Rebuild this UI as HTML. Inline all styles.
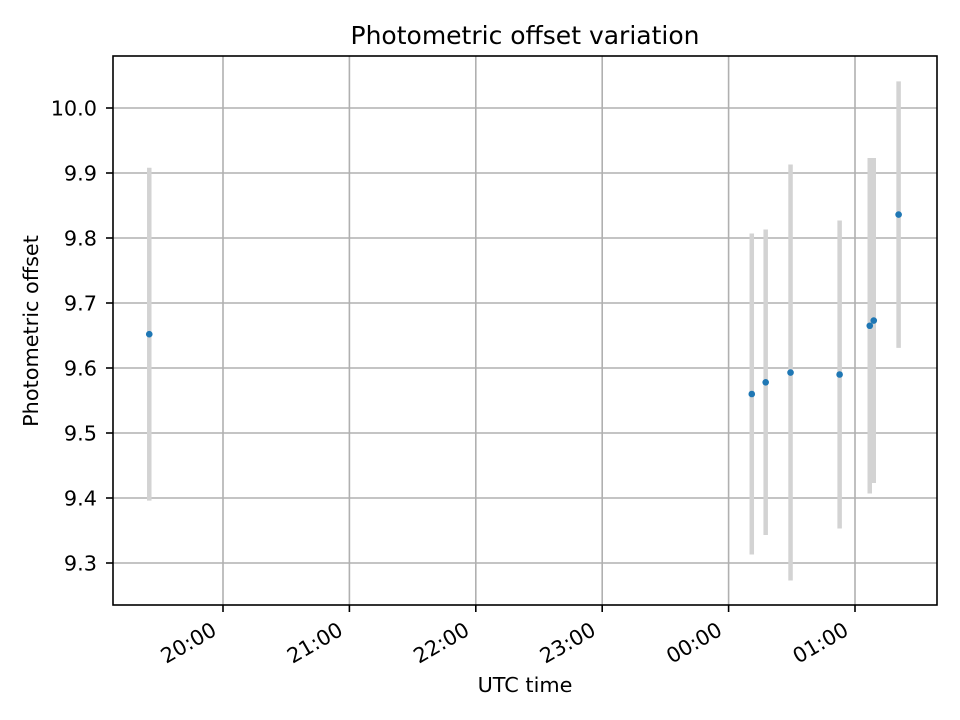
<!DOCTYPE html>
<html><head><meta charset="utf-8"><style>
body{margin:0;background:#fff}
svg{display:block;font-family:"DejaVu Sans","Liberation Sans",sans-serif}
</style></head><body>
<svg id="chart" width="960" height="720" viewBox="0 0 960 720" xmlns="http://www.w3.org/2000/svg">
<rect width="960" height="720" fill="#fff"/>
<text x="525" y="44" font-size="25" text-anchor="middle">Photometric offset variation</text>
<text x="525" y="692" font-size="20.8" text-anchor="middle">UTC time</text>
<text transform="translate(38,331) rotate(-90)" font-size="20.8" text-anchor="middle">Photometric offset</text>
<g id="grid"></g><g id="errs"></g><g id="pts"></g><g id="ticks"></g>
<rect x="113" y="56" width="824" height="549" fill="none" stroke="#000" stroke-width="1.6"/>
</svg>
<script>
// times in minutes since 00:00 of the first day
const times=[1165,1451,1457.6,1469.4,1492.7,1507,1508.9,1520.7];
const offsets=[9.652,9.56,9.578,9.593,9.59,9.665,9.673,9.836];
const errors=[0.256,0.247,0.235,0.32,0.237,0.258,0.25,0.205];
const yTicks=[9.3,9.4,9.5,9.6,9.7,9.8,9.9,10.0];
const xTickMins=[1200,1260,1320,1380,1440,1500];
const xTickLabels=["20:00","21:00","22:00","23:00","00:00","01:00"];
const ns="http://www.w3.org/2000/svg";
const X0=113,X1=937,Y0=56,Y1=605;
const xs=m=>223+(m-1200)*126.4/60;
const ys=v=>108+(10.0-v)*650;
function mk(tag,attrs,parent){const e=document.createElementNS(ns,tag);for(const k in attrs)e.setAttribute(k,attrs[k]);document.getElementById(parent).appendChild(e);return e;}
yTicks.forEach((t,i)=>{const y=ys(t);
 const g=mk('line',{x1:X0,x2:X1,y1:y,y2:y,stroke:'#b0b0b0','stroke-width':1.6},'grid');
 
 
 mk('line',{x1:X0-7,x2:X0,y1:y,y2:y,stroke:'#000','stroke-width':1.6},'ticks');
 const tx=mk('text',{x:X0-16,y:y+7.5,'font-size':20.8,'text-anchor':'end'},'ticks');
 tx.textContent=t.toFixed(1);
 
 
});
xTickMins.forEach((m,i)=>{const x=xs(m);
 const g=mk('line',{x1:x,x2:x,y1:Y0,y2:Y1,stroke:'#b0b0b0','stroke-width':1.6},'grid');
 
 
 mk('line',{x1:x,x2:x,y1:Y1,y2:Y1+7,stroke:'#000','stroke-width':1.6},'ticks');
 const tx=mk('text',{transform:`translate(${x-5},${Y1+29}) rotate(-30)`,'font-size':20.8,'text-anchor':'end'},'ticks');
 tx.textContent=xTickLabels[i];
 
 
});
times.forEach((m,i)=>{const x=xs(m);
 const e=mk('line',{x1:x,x2:x,y1:ys(offsets[i]+errors[i]),y2:ys(offsets[i]-errors[i]),stroke:'#d3d3d3','stroke-width':4.5},'errs');
 
 
 const c=mk('circle',{cx:x,cy:ys(offsets[i]),r:3.3,fill:'#1f77b4'},'pts');
 
 
});
</script>
</body></html>
